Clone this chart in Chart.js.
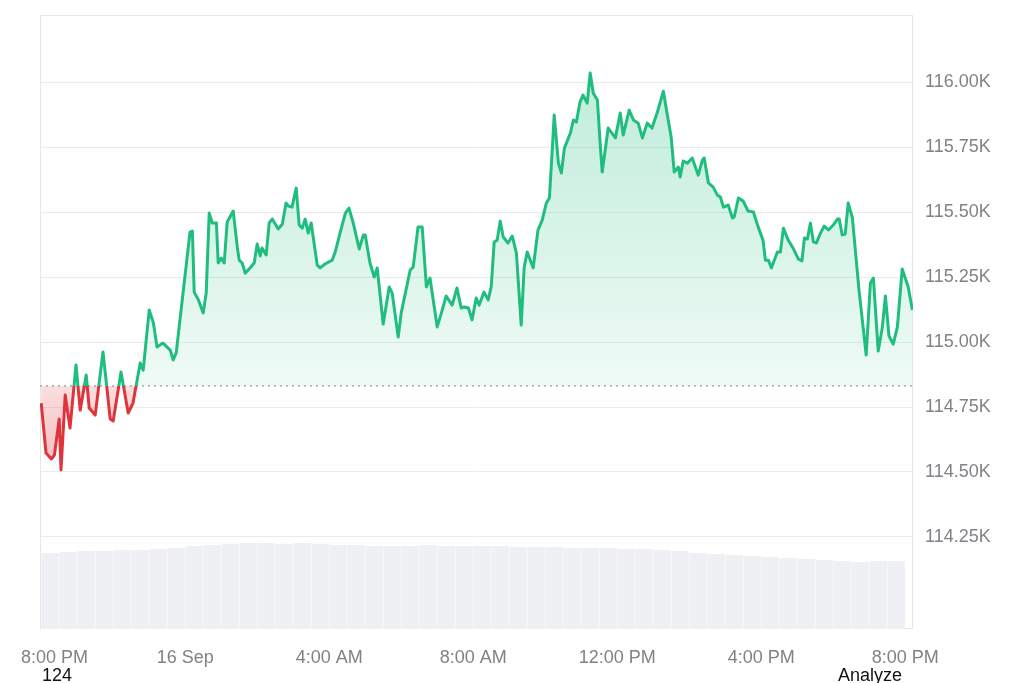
<!DOCTYPE html>
<html><head><meta charset="utf-8">
<script src="https://cdn.jsdelivr.net/npm/chart.js@4.4.1/dist/chart.umd.min.js"></script>
<style>
html,body{margin:0;padding:0;background:#fff;overflow:hidden;width:1024px;height:683px;}
#wrap{position:absolute;left:0;top:0;width:1024px;height:683px;}
.note{position:absolute;font-family:"Liberation Sans",Arial,sans-serif;font-size:18px;line-height:18px;color:#111;white-space:nowrap;}
</style></head><body>
<div id="wrap"><canvas id="c" width="1024" height="683"></canvas></div>
<div class="note" style="left:42px;top:666px">124</div>
<div class="note" style="left:838px;top:666px">Analyze</div>
<script>
// Minutes after 8:00 PM, 15 Sep
const priceMinutes = [0,8,17,22,30,33,40,48,58,65,75,80,90,103,115,120,133,145,153,165,170,180,187,193,203,215,220,225,248,252,255,262,270,275,280,285,292,295,300,305,310,320,327,330,335,340,348,355,360,365,368,375,380,385,395,402,408,412,418,425,430,435,440,445,450,460,465,473,485,490,498,507,513,520,530,537,540,548,555,560,570,580,585,595,600,615,620,628,635,642,648,660,667,675,685,693,700,705,712,718,725,730,738,745,750,755,760,765,770,778,785,792,800,805,810,820,828,835,842,847,852,855,862,867,872,882,887,892,898,903,910,915,920,927,932,935,945,957,965,970,980,987,995,1002,1010,1018,1027,1037,1043,1050,1055,1062,1065,1070,1077,1085,1095,1102,1105,1112,1120,1127,1132,1137,1145,1152,1155,1162,1170,1178,1187,1195,1203,1207,1212,1217,1227,1232,1237,1245,1253,1262,1268,1272,1277,1282,1287,1292,1298,1305,1312,1320,1327,1330,1335,1340,1345,1352,1363,1375,1382,1387,1395,1402,1407,1413,1420,1427,1435,1445,1452];
// Price (USD)
const prices = [114765,114573,114550,114565,114704,114508,114796,114669,114912,114738,
114873,114746,114719,114962,114704,114696,114885,114727,114765,114919,
114892,115123,115073,114981,114996,114969,114931,114958,115423,115427,
115192,115162,115112,115188,115496,115458,115458,115304,115323,115304,
115462,115504,115362,115315,115304,115265,115285,115304,115377,115331,
115362,115335,115458,115473,115435,115454,115535,115523,115519,115592,
115450,115438,115473,115419,115458,115296,115285,115300,115315,115346,
115419,115496,115515,115458,115358,115412,115412,115304,115250,115285,
115069,115212,115188,115019,115112,115277,115288,115442,115442,115212,
115246,115058,115112,115177,115142,115208,115131,115135,115131,115085,
115169,115142,115192,115162,115212,115385,115392,115465,115404,115381,
115408,115342,115065,115288,115346,115285,115431,115469,115535,115554,
115750,115873,115688,115650,115746,115804,115854,115846,115923,115950,
115919,116035,115958,115931,115750,115654,115823,115785,115881,115796,
115892,115854,115842,115785,115842,115823,115885,115965,115881,115788,
115654,115673,115635,115696,115688,115708,115642,115700,115708,115612,
115596,115565,115558,115519,115527,115477,115481,115554,115542,115504,
115500,115442,115392,115315,115315,115285,115346,115346,115438,115392,
115362,115319,115312,115400,115396,115458,115385,115381,115415,115446,
115431,115450,115473,115473,115412,115415,115535,115477,115200,114950,
115227,115246,114965,115058,115177,115023,114992,115058,115281,115212,
115123];
// Opening price (reference line)
const basePrice = 114831;
// Volume bars (minutes after 8:00 PM, volume in $B)
const volumeMinutes = [15,45,75,105,135,165,195,225,255,285,315,345,375,405,435,465,495,525,555,585,615,645,675,705,735,765,795,825,855,885,915,945,975,1005,1035,1065,1095,1125,1155,1185,1215,1245,1275,1305,1335,1365,1395,1425];
const volumes = [45.6,46.2,46.8,46.8,47.4,47.4,48.0,48.6,49.8,50.4,51.0,51.6,51.6,51.0,51.6,51.0,50.4,50.4,49.8,49.8,49.8,50.4,49.8,49.8,49.8,49.8,49.2,49.2,49.2,48.6,48.6,48.6,48.0,48.0,47.4,46.8,45.6,45.0,44.4,43.8,43.2,42.6,42.0,41.4,40.8,40.2,40.8,40.8];
// Axis ticks
const xTickMinutes = [22,240,480,720,960,1200,1440];
const xTickLabels = ['8:00 PM','16 Sep','4:00 AM','8:00 AM','12:00 PM','4:00 PM','8:00 PM'];
const yTicks = [114250,114500,114750,115000,115250,115500,115750,116000];

const GREEN='rgb(31,189,126)', RED='rgb(224,52,60)';
function grad(chart, kind){
  const a = chart.chartArea; const ys = chart.scales && chart.scales.y;
  if(!a || !ys) return null;
  const yb = ys.getPixelForValue(basePrice);
  const s = Math.min(Math.max((yb - a.top)/(a.bottom-a.top),0),1);
  const g = chart.ctx.createLinearGradient(0,a.top,0,a.bottom);
  if(kind==='line'){
    g.addColorStop(0,GREEN); g.addColorStop(s,GREEN); g.addColorStop(s,RED); g.addColorStop(1,RED);
  } else {
    g.addColorStop(0,'rgba(31,189,126,0.32)'); g.addColorStop(s,'rgba(31,189,126,0.07)');
    g.addColorStop(s,'rgba(224,52,60,0.16)'); g.addColorStop(1,'rgba(224,52,60,0.65)');
  }
  return g;
}
const n = Math.min(priceMinutes.length, prices.length);
const priceData = []; for(let i=0;i<n;i++) priceData.push({x:priceMinutes[i], y:prices[i]});
const volData = volumeMinutes.map((m,i)=>({x:m, y:volumes[i]}));

const frame = {id:'frame', beforeDatasetsDraw(chart){
  const {ctx, chartArea:a} = chart; ctx.save(); ctx.strokeStyle='#e6e6e6'; ctx.lineWidth=1;
  ctx.strokeRect(Math.round(a.left)+0.5, Math.round(a.top)+0.5, Math.round(a.right-a.left)-1, Math.round(a.bottom-a.top)-1);
  ctx.restore();
}};

Chart.defaults.font.family = '"Liberation Sans", Arial, sans-serif';
new Chart(document.getElementById('c'), {
  data: {datasets: [
    {type:'line', label:'Price', data: priceData, order:1, yAxisID:'y',
     borderColor: c => grad(c.chart,'line') || GREEN,
     backgroundColor: c => grad(c.chart,'fill') || 'rgba(31,189,126,0.15)',
     borderWidth: 3, pointRadius:0, tension:0, borderJoinStyle:'round',
     fill: {target: {value: basePrice}}},
    {type:'line', label:'Open', data: [{x:-2,y:basePrice},{x:1453,y:basePrice}], order:2, yAxisID:'y',
     borderColor:'#9a9a9a', borderWidth:1.3, borderDash:[2,4], pointRadius:0, fill:false},
    {type:'bar', label:'Volume', data: volData, order:3, yAxisID:'yv',
     backgroundColor:'#eef0f3', barPercentage:0.97, categoryPercentage:1, grouped:false}
  ]},
  options: {
    responsive:false, animation:false,
    layout:{padding:{left:40, top:15, right:0, bottom:0}},
    plugins:{legend:{display:false}, tooltip:{enabled:false}},
    scales:{
      x:{type:'linear', min:-2, max:1453, offset:false,
        grid:{display:false, drawTicks:false, offset:false}, border:{display:false},
        afterBuildTicks: s => { s.ticks = xTickMinutes.map(v=>({value:v})); },
        afterFit: s => { s.height = 54; s.paddingLeft = 0; s.paddingRight = 0; },
        ticks:{autoSkip:false, maxRotation:0, padding:18, color:'#7f8287', font:{size:18},
          callback:(v,i)=>xTickLabels[i]}},
      y:{type:'linear', position:'right', min:113896, max:116258,
        grid:{color:'#ebebeb', drawTicks:false}, border:{display:false},
        afterBuildTicks: s => { s.ticks = yTicks.map(v=>({value:v})); },
        afterFit: s => { s.width = 111; s.paddingTop = 0; s.paddingBottom = 0; },
        ticks:{padding:12, color:'#7f8287', font:{size:18},
          callback: v => (v/1000).toFixed(2)+'K'}},
      yv:{type:'linear', display:false, min:0, max:368.4}
    }
  },
  plugins:[frame]
});
</script>
</body></html>
